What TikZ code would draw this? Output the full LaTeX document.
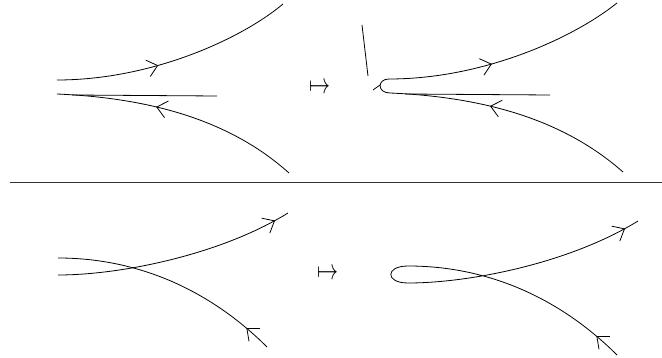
\documentclass[tikz,border=0pt]{standalone}
\usepackage{amsmath,amssymb}
\usepackage{graphicx}
\usepackage{tikz}
\usetikzlibrary{arrows.meta,decorations.markings}

\tikzset{
  strand/.style={line width=0.8pt},
  mapsign/.style={inner sep=0pt},
  flowmark/.style={postaction={decorate},decoration={markings,
    mark=at position #1 with {\arrow{Straight Barb[length=10pt,width=17pt,line width=0.8pt]}}}},
  flowtwo/.style 2 args={postaction={decorate},decoration={markings,
    mark=at position #1 with {\arrow{Straight Barb[length=10pt,width=17pt,line width=0.8pt]}},
    mark=at position #2 with {\arrow{Straight Barb[length=10pt,width=17pt,line width=0.8pt]}}}}
}

\begin{document}
\begin{tikzpicture}[x=1pt,y=-1pt]
\useasboundingbox (0,0) rectangle (662,358);
\draw[strand,flowmark=-140pt] (57,80) .. controls (150,80) and (240,40) .. (283,4);
\draw[strand,flowmark=150pt] (289,173) .. controls (230,120) and (150,98) .. (57,94);
\draw[strand] (72,95) -- (217,96);
\node[mapsign] (m1) at (320,88) {\scalebox{2.1}[2.9]{$\mapsto$}};
\draw[strand] (362,25) -- (368,76);
\draw[strand] (373,90) -- (380,85);
\draw[strand,flowtwo={150pt}{-140pt}] (623,172) .. controls (563,119) and (483,97) .. (390,93)
  .. controls (377,93) and (377,79) .. (389,79)
  .. controls (482,79) and (572,39) .. (617,3);
\draw[strand] (405,94) -- (550,95);
\draw[line width=0.9pt,black!80] (10,182) -- (662,182);
\draw[strand,flowmark=-15pt] (58,275) .. controls (120,275) and (220,255) .. (288,213);
\draw[strand,flowmark=28pt] (267,347) .. controls (220,300) and (150,258) .. (58,258);
\node[mapsign] (m2) at (328,274) {\scalebox{2.1}[2.9]{$\mapsto$}};
\draw[strand,flowtwo={28pt}{-15pt}] (617,355) .. controls (570,308) and (500,266) .. (408,266)
  .. controls (385,266) and (385,283) .. (408,283)
  .. controls (470,283) and (570,263) .. (638,221);
\end{tikzpicture}
\end{document}
